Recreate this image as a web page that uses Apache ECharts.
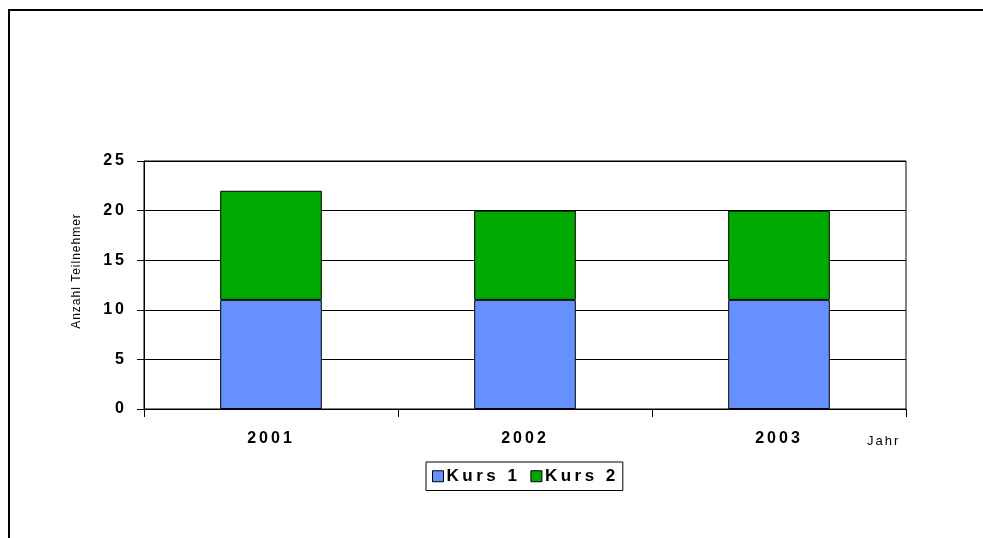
<!DOCTYPE html>
<html>
<head>
<meta charset="utf-8">
<title>Anzahl Teilnehmer</title>
<script src="https://cdn.jsdelivr.net/npm/echarts@6/dist/echarts.min.js"></script>
<style>
  html, body { margin: 0; padding: 0; background: #fff; }
  #main { width: 983px; height: 538px; }
</style>
</head>
<body>
<div id="main"></div>
<script>
  // Jahre und Teilnehmer pro Kurs
  var jahre = ['2001', '2002', '2003'];
  var kurs1 = [11, 11, 11];
  var kurs2 = [11, 9, 9];
  var yTicks = [0, 5, 10, 15, 20, 25];

  // gesperrte Schrift wie im Original (Buchstabenabstand je Schriftgröße)
  var spacing = { 16: '3px', 17: '3.5px', 13: '2px', 12: '1px' };
  var proto = CanvasRenderingContext2D.prototype;
  ['fillText', 'strokeText', 'measureText'].forEach(function (fn) {
    var orig = proto[fn];
    proto[fn] = function () {
      var m = /(\d+)px/.exec(this.font);
      this.letterSpacing = (m && spacing[m[1]]) || '0px';
      return orig.apply(this, arguments);
    };
  });

  var font = '"Liberation Sans", Arial, sans-serif';

  var myChart = echarts.init(document.getElementById('main'));

  myChart.setOption({
    animation: false,
    backgroundColor: '#fff',
    grid: {
      left: 144,
      right: 77,
      top: 161,
      bottom: 129,
      show: true,
      borderColor: '#000',
      borderWidth: 1
    },
    graphic: [
      //Rahmen um das Diagramm
      {
        type: 'polyline',
        shape: { points: [[9, 538], [9, 10], [983, 10]] },
        style: { stroke: '#000', lineWidth: 2, fill: null }
      },
      {
        type: 'text',
        left: 867,
        top: 434,
        style: { text: 'Jahr', font: '13px ' + font, fill: '#000' }
      },
      {
        type: 'text',
        x: 77,
        y: 271,
        rotation: Math.PI / 2,
        style: {
          text: 'Anzahl Teilnehmer',
          font: '12px ' + font,
          fill: '#000',
          align: 'center',
          verticalAlign: 'middle'
        }
      }
    ],
    legend: {
      left: 426,
      top: 462,
      itemWidth: 11,
      itemHeight: 11,
      itemGap: 10,
      padding: [4, 4, 4, 6],
      borderColor: '#000',
      borderWidth: 1,
      icon: 'rect',
      itemStyle: { borderColor: '#000', borderWidth: 1 },
      textStyle: {
        fontFamily: font,
        fontWeight: 'bold',
        fontSize: 17,
        color: '#000',
        padding: [0, 0, 0, -2]
      },
      data: ['Kurs 1', 'Kurs 2']
    },
    xAxis: {
      type: 'category',
      data: jahre,
      axisLine: { lineStyle: { color: '#000', width: 1 } },
      axisTick: { show: true, length: 8, alignWithLabel: false, lineStyle: { color: '#000' } },
      axisLabel: {
        margin: 20,
        fontFamily: font,
        fontWeight: 'bold',
        fontSize: 16,
        color: '#000'
      },
      splitLine: { show: false }
    },
    yAxis: {
      type: 'value',
      min: yTicks[0],
      max: yTicks[yTicks.length - 1],
      interval: 5,
      axisLine: { show: true, lineStyle: { color: '#000' } },
      axisTick: { show: true, length: 7, lineStyle: { color: '#000' } },
      axisLabel: {
        margin: 17,
        fontFamily: font,
        fontWeight: 'bold',
        fontSize: 16,
        color: '#000'
      },
      splitLine: { show: true, lineStyle: { color: '#000', width: 1 } }
    },
    series: [
      {
        name: 'Kurs 1',
        type: 'bar',
        stack: 'kurs',
        barWidth: '40%',
        data: kurs1,
        itemStyle: { color: '#6690FF', borderColor: '#000', borderWidth: 1 }
      },
      {
        name: 'Kurs 2',
        type: 'bar',
        stack: 'kurs',
        barWidth: '40%',
        data: kurs2,
        itemStyle: { color: '#00AA00', borderColor: '#000', borderWidth: 1 }
      }
    ]
  });
</script>
</body>
</html>
